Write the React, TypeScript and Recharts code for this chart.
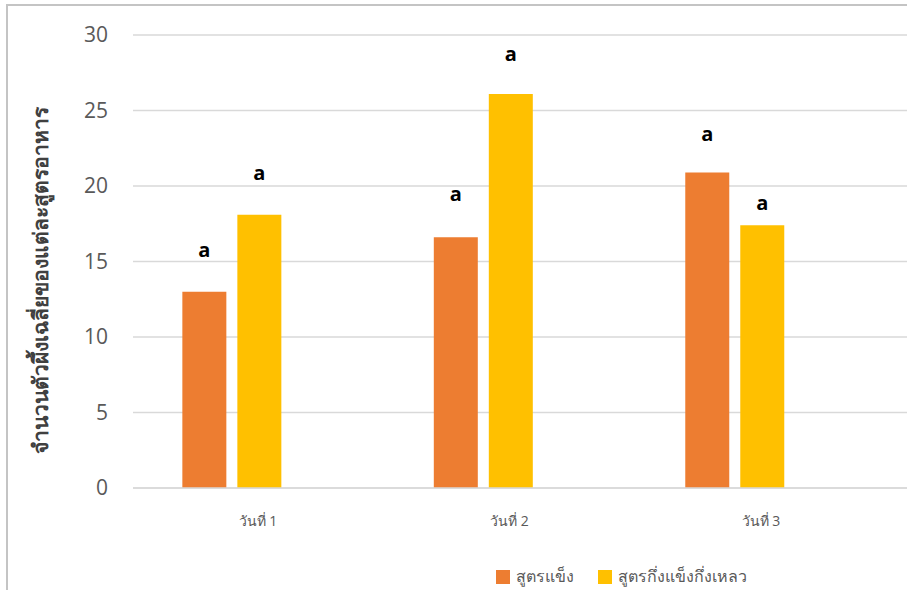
import { BarChart, Bar, XAxis, YAxis, CartesianGrid, LabelList } from 'recharts';

// categories and series
const days = ['วันที่ 1', 'วันที่ 2', 'วันที่ 3'];
const dayIndex = [1, 2, 3];
const solid = [13.0, 16.6, 20.9];
const semiSolid = [18.1, 26.1, 17.4];
// where the significance letters sit (in y-axis units)
const solidLetterPos = [15.8, 19.5, 23.5];
const semiLetterPos = [20.9, 28.8, 18.9];
const solidLetters = ['a', 'a', 'a'];
const semiLetters = ['a', 'a', 'a'];
const yTicks = [0, 5, 10, 15, 20, 25, 30];

const seriesNames = ['สูตรแข็ง', 'สูตรกึ่งแข็งกึ่งเหลว'];
const colors = ['#ED7D31', '#FFC000'];

const data = dayIndex.map((d, i) => ({
  day: d,
  solid: solid[i],
  semi: semiSolid[i],
}));

const font = "'Open Sans', 'Noto Sans', 'DejaVu Sans', sans-serif";

const makeLetter = (positions: number[], letters: string[]) => (props: any) => {
  const { x, y, width, height, value, index } = props;
  if (!value) return null;
  const pxPerUnit = height / value;
  const ly = y + height - positions[index] * pxPerUnit;
  return (
    <text
      x={x + width / 2}
      y={ly}
      textAnchor="middle"
      dominantBaseline="central"
      fontSize={20}
      fontWeight="bold"
      fontFamily={font}
      fill="#000"
    >
      {letters[index]}
    </text>
  );
};

const YTitle = () => (
  <text
    x={40}
    y={280}
    transform="rotate(-90, 40, 280)"
    textAnchor="middle"
    dominantBaseline="central"
    fontSize={21}
    fontWeight="bold"
    fontFamily={font}
    fill="#404040"
  >
    จำนวนตัวผึ้งเฉลี่ยของแต่ละสูตรอาหาร
  </text>
);

export default function App() {
  return (
    <div style={{ position: 'absolute', left: 0, top: 0, width: 907, height: 590, background: '#fff' }}>
      <div
        style={{
          position: 'absolute',
          left: 6,
          top: 4,
          right: 0,
          bottom: 0,
          borderLeft: '2px solid #c4c4c4',
          borderTop: '2px solid #c4c4c4',
        }}
      />
      <BarChart
        width={907}
        height={590}
        data={data}
        margin={{ top: 35, right: 0, bottom: 72, left: 73 }}
        barSize={44}
        barGap={11}
        style={{ position: 'absolute', left: 0, top: 0 }}
      >
        <CartesianGrid vertical={false} stroke="#d9d9d9" strokeWidth={1.5} />
        <XAxis
          type="number"
          dataKey="day"
          height={30}
          domain={[0.606, 3.684]}
          ticks={dayIndex}
          allowDataOverflow
          tickFormatter={(v: number) => days[v - 1]}
          axisLine={{ stroke: '#d9d9d9', strokeWidth: 1.5 }}
          tickLine={false}
          tickSize={0}
          tickMargin={28}
          tick={{ fill: '#595959', fontSize: 14, fontFamily: font, dx: 26 }}
        />
        <YAxis
          width={60}
          domain={[0, 30]}
          ticks={yTicks}
          axisLine={false}
          tickLine={false}
          tickSize={0}
          tickMargin={25}
          tick={{ fill: '#595959', fontSize: 21, fontFamily: font }}
          label={<YTitle />}
        />
        <Bar dataKey="solid" name={seriesNames[0]} fill={colors[0]} isAnimationActive={false}>
          <LabelList dataKey="solid" content={makeLetter(solidLetterPos, solidLetters)} />
        </Bar>
        <Bar dataKey="semi" name={seriesNames[1]} fill={colors[1]} isAnimationActive={false}>
          <LabelList dataKey="semi" content={makeLetter(semiLetterPos, semiLetters)} />
        </Bar>
      </BarChart>
      {/* legend */}
      <div
        style={{
          position: 'absolute',
          left: 496,
          top: 564,
          display: 'flex',
          alignItems: 'center',
          fontFamily: font,
          fontSize: 16,
          color: '#595959',
        }}
      >
        {seriesNames.map((name, i) => (
          <div key={name} style={{ display: 'flex', alignItems: 'center', marginRight: 24 }}>
            <div style={{ width: 14, height: 14, backgroundColor: colors[i], marginRight: 6 }} />
            <span>{name}</span>
          </div>
        ))}
      </div>
    </div>
  );
}
